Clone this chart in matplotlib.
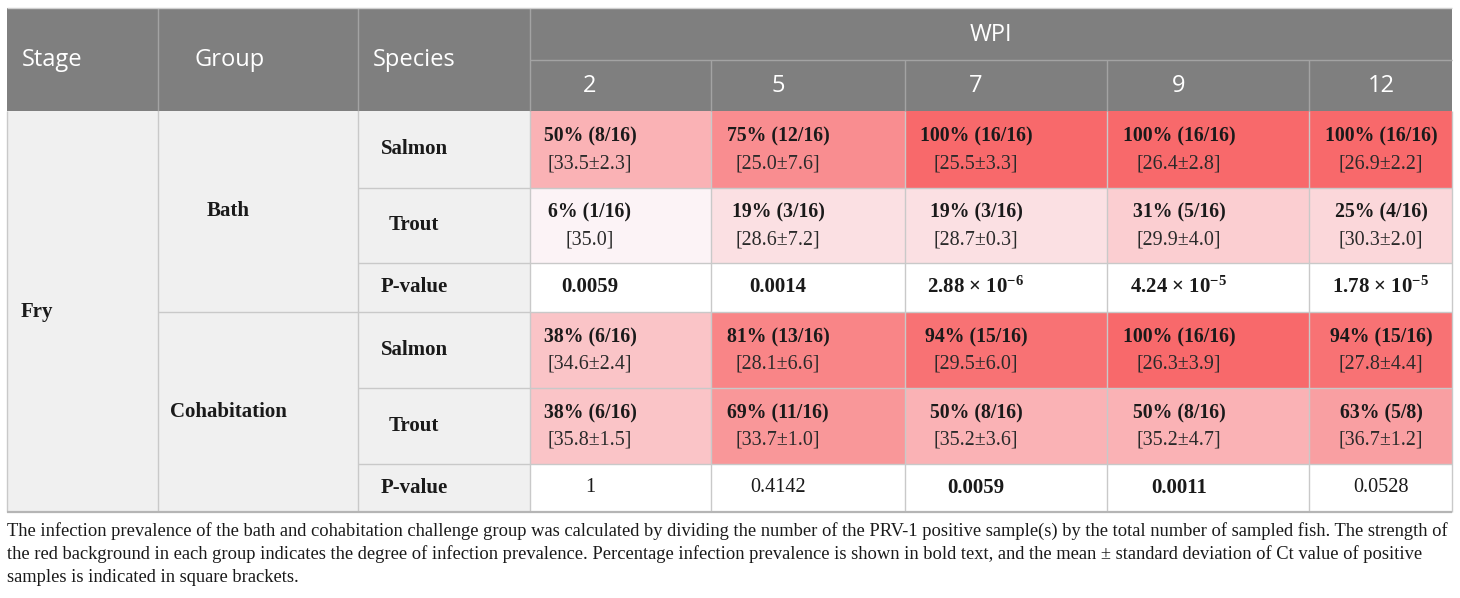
import matplotlib

matplotlib.use("Agg")
import matplotlib.pyplot as plt
from matplotlib.colors import LinearSegmentedColormap
from matplotlib.patches import Rectangle

weeks = ["2", "5", "7", "9", "12"]

bath_salmon_pct = [50, 75, 100, 100, 100]
bath_salmon_pos = [8, 12, 16, 16, 16]
bath_salmon_n = [16, 16, 16, 16, 16]
bath_salmon_ct = ["33.5±2.3", "25.0±7.6", "25.5±3.3", "26.4±2.8", "26.9±2.2"]

bath_trout_pct = [6, 19, 19, 31, 25]
bath_trout_pos = [1, 3, 3, 5, 4]
bath_trout_n = [16, 16, 16, 16, 16]
bath_trout_ct = ["35.0", "28.6±7.2", "28.7±0.3", "29.9±4.0", "30.3±2.0"]

bath_p = ["0.0059", "0.0014", "2.88 × 10$^{-6}$", "4.24 × 10$^{-5}$", "1.78 × 10$^{-5}$"]
bath_p_bold = [True, True, True, True, True]

cohab_salmon_pct = [38, 81, 94, 100, 94]
cohab_salmon_pos = [6, 13, 15, 16, 15]
cohab_salmon_n = [16, 16, 16, 16, 16]
cohab_salmon_ct = ["34.6±2.4", "28.1±6.6", "29.5±6.0", "26.3±3.9", "27.8±4.4"]

cohab_trout_pct = [38, 69, 50, 50, 63]
cohab_trout_pos = [6, 11, 8, 8, 5]
cohab_trout_n = [16, 16, 16, 16, 8]
cohab_trout_ct = ["35.8±1.5", "33.7±1.0", "35.2±3.6", "35.2±4.7", "36.7±1.2"]

cohab_p = ["1", "0.4142", "0.0059", "0.0011", "0.0528"]
cohab_p_bold = [False, False, True, True, False]

caption = [
    "The infection prevalence of the bath and cohabitation challenge group was calculated by dividing "
    "the number of the PRV-1 positive sample(s) by the total number of sampled fish. The strength of",
    "the red background in each group indicates the degree of infection prevalence. Percentage infection "
    "prevalence is shown in bold text, and the mean ± standard deviation of Ct value of positive",
    "samples is indicated in square brackets.",
]

# ---- layout (pixels) ----
W, H = 1460, 598
col_edges = [7, 158, 358, 530, 711, 905, 1107, 1309, 1452]
wk_text_x = [590, 778, 976, 1179, 1381]
hdr_top, hdr_mid, hdr_bot = 8, 60, 111
row_edges = [111, 188, 263, 312, 388, 464, 512]

HDR_BG = "#7f7f7f"
HDR_LINE = "#a3a3a3"
LEFT_BG = "#f0f0f0"
GRID = "#c9c9c9"
TXT = "#1a1a1a"
SERIF = "Liberation Serif"
SANS = "Open Sans"

plt.rcParams["mathtext.default"] = "regular"
prev_cmap = LinearSegmentedColormap.from_list("prev", ["#FCFCFF", "#F8696B"])

fig = plt.figure(figsize=(W / 100, H / 100), dpi=100)
ax = fig.add_axes([0, 0, 1, 1])
ax.set_xlim(0, W)
ax.set_ylim(H, 0)
ax.axis("off")


def box(x0, y0, x1, y1, color):
    ax.add_patch(Rectangle((x0, y0), x1 - x0, y1 - y0, facecolor=color,
                           edgecolor="none", zorder=1))


def hline(y, x0, x1, color=GRID, lw=1.0):
    ax.plot([x0, x1], [y, y], color=color, lw=lw, zorder=3, solid_capstyle="butt")


def vline(x, y0, y1, color=GRID, lw=1.0):
    ax.plot([x, x], [y0, y1], color=color, lw=lw, zorder=3, solid_capstyle="butt")


# header
box(col_edges[0], hdr_top, col_edges[-1], hdr_bot, HDR_BG)
hline(hdr_mid, col_edges[3], col_edges[-1], HDR_LINE)
for x in col_edges[1:4]:
    vline(x, hdr_top, hdr_bot, HDR_LINE)
for x in col_edges[4:-1]:
    vline(x, hdr_mid, hdr_bot, HDR_LINE)
hline(hdr_top, col_edges[0], col_edges[-1], "#d0d0d0")

hdr_kw = dict(color="white", fontsize=17, family=SANS, va="center", zorder=4)
ax.text(22, (hdr_top + hdr_bot) / 2 + 1, "Stage", ha="left", **hdr_kw)
ax.text(194, (hdr_top + hdr_bot) / 2 + 1, "Group", ha="left", **hdr_kw)
ax.text(373, (hdr_top + hdr_bot) / 2 + 1, "Species", ha="left", **hdr_kw)
ax.text((col_edges[3] + col_edges[-1]) / 2, (hdr_top + hdr_mid) / 2 + 1, "WPI", ha="center", **hdr_kw)
for x, wk in zip(wk_text_x, weeks):
    ax.text(x, (hdr_mid + hdr_bot) / 2 + 1, wk, ha="center", **hdr_kw)

# left label columns
box(col_edges[0], row_edges[0], col_edges[3], row_edges[-1], LEFT_BG)

lab_kw = dict(color=TXT, fontsize=15, family=SERIF, weight="bold", va="center", zorder=4)
ax.text(21, (row_edges[0] + row_edges[-1]) / 2, "Fry", ha="left", **lab_kw)
ax.text(228, (row_edges[0] + row_edges[3]) / 2, "Bath", ha="center", **lab_kw)
ax.text(228, (row_edges[3] + row_edges[6]) / 2, "Cohabitation", ha="center", **lab_kw)

groups = [
    [(bath_salmon_pct, bath_salmon_pos, bath_salmon_n, bath_salmon_ct),
     (bath_trout_pct, bath_trout_pos, bath_trout_n, bath_trout_ct),
     (bath_p, bath_p_bold)],
    [(cohab_salmon_pct, cohab_salmon_pos, cohab_salmon_n, cohab_salmon_ct),
     (cohab_trout_pct, cohab_trout_pos, cohab_trout_n, cohab_trout_ct),
     (cohab_p, cohab_p_bold)],
]
species = ["Salmon", "Trout", "P-value"]

r = 0
for g in groups:
    for k, rowdata in enumerate(g):
        y0, y1 = row_edges[r], row_edges[r + 1]
        yc = (y0 + y1) / 2
        ax.text(414, yc, species[k], ha="center", **lab_kw)
        if k < 2:
            pct, pos, n, ct = rowdata
            for j in range(len(weeks)):
                box(col_edges[3 + j], y0, col_edges[4 + j], y1, prev_cmap(pct[j] / 100))
                ax.text(wk_text_x[j], yc - 13, f"{pct[j]}% ({pos[j]}/{n[j]})", ha="center",
                        va="center", color=TXT, fontsize=14.2, family=SERIF,
                        weight="bold", zorder=4)
                ax.text(wk_text_x[j], yc + 14, f"[{ct[j]}]", ha="center", va="center",
                        color="#2a2a2a", fontsize=14.4, family=SERIF, zorder=4)
        else:
            pv, bold = rowdata
            for j in range(len(weeks)):
                box(col_edges[3 + j], y0, col_edges[4 + j], y1, "white")
                ax.text(wk_text_x[j], yc, pv[j], ha="center", va="center", color=TXT,
                        fontsize=15 if bold[j] else 14.6, family=SERIF,
                        weight="bold" if bold[j] else "normal", zorder=4)
        r += 1

# body grid
for y in row_edges[1:-1]:
    x_start = col_edges[1] if y == row_edges[3] else col_edges[2]
    hline(y, x_start, col_edges[-1])
for x in col_edges[1:-1]:
    vline(x, row_edges[0], row_edges[-1])
vline(col_edges[0], row_edges[0], row_edges[-1])
vline(col_edges[-1], row_edges[0], row_edges[-1])
hline(row_edges[-1], col_edges[0], col_edges[-1], "#b5b5b5", 1.6)

# caption, sized so the first line spans the table width
fig.canvas.draw()
renderer = fig.canvas.get_renderer()
probe = ax.text(0, 0, caption[0], family=SERIF, fontsize=12)
scale = (col_edges[-1] - col_edges[0] - 8) / probe.get_window_extent(renderer).width
probe.remove()
cap_size = 12 * scale
for i, line in enumerate(caption):
    ax.text(col_edges[0], 531 + 23.5 * i, line, ha="left", va="center", color=TXT,
            family=SERIF, fontsize=cap_size)

fig.savefig("out.png", dpi=100)
